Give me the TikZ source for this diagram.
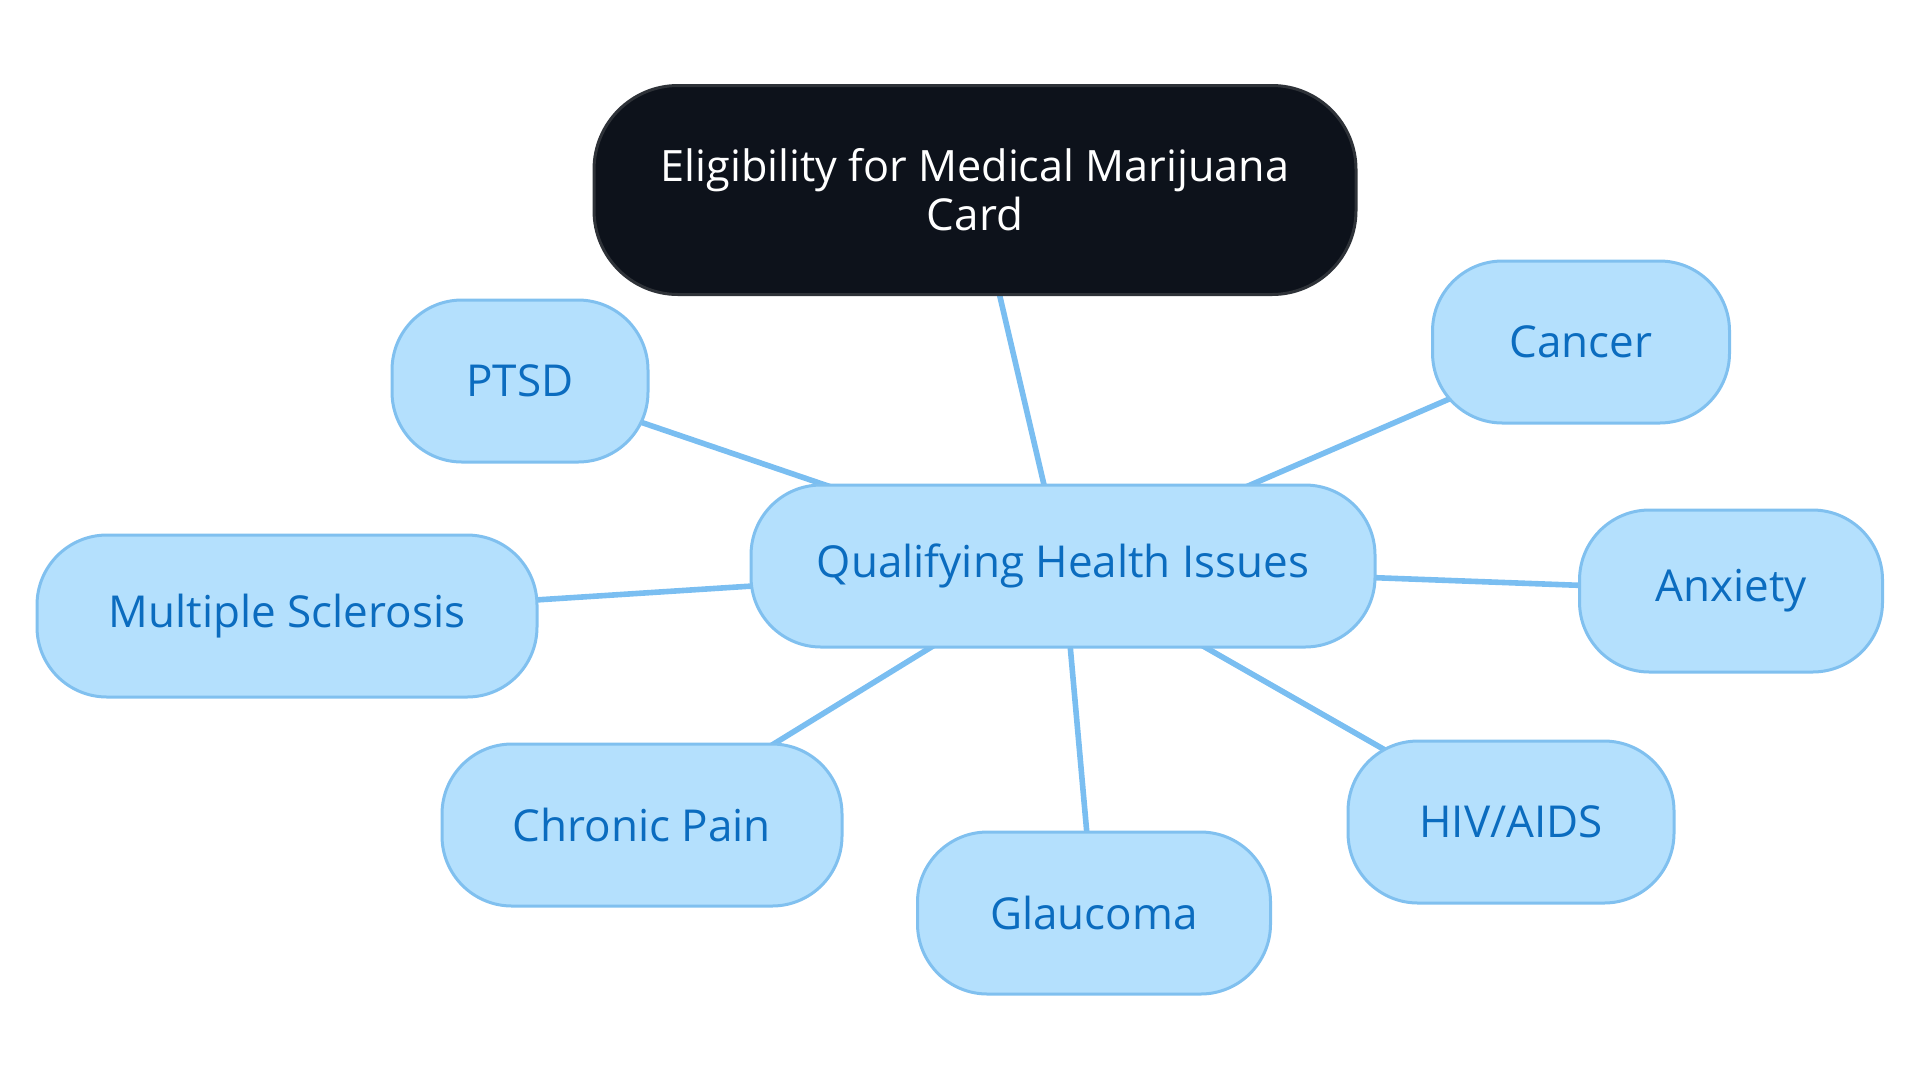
\documentclass[tikz,border=0pt]{standalone}
\usepackage{fontspec}
\setmainfont{Open Sans}
\usepackage{tikz}
\usetikzlibrary{backgrounds}

\definecolor{leaffill}{HTML}{B4E0FD}
\definecolor{leafline}{HTML}{80C0EF}
\definecolor{linkline}{HTML}{7ABEF1}
\definecolor{leaftext}{HTML}{0B6CBF}
\definecolor{rootfill}{HTML}{0D121B}
\definecolor{rootline}{HTML}{2E3238}

\begin{document}
\begin{tikzpicture}[x=0.5pt,y=-0.5pt, font=\fontsize{22}{24.5}\selectfont]

    \tikzstyle{leaf}=[fill=leaffill,draw=leafline,line width=1.5pt,text=leaftext,rounded corners=35pt,minimum height=81pt,inner sep=0pt]
    \tikzstyle{root}=[fill=rootfill,draw=rootline,line width=1.5pt,text=white,rounded corners=42pt,minimum width=381pt,minimum height=104.5pt,align=center,inner sep=0pt]
    \tikzstyle{link}=[draw=linkline,line width=2.8pt]

    \useasboundingbox (0,0) rectangle (1920,1083);

    \node[root] (card)    at (975,190)  {\fontsize{21.6}{24.5}\selectfont Eligibility for Medical Marijuana\\Card};
    \node[leaf, minimum width=312pt]   (issues)  at (1063,566) {Qualifying Health Issues};
    \node[leaf, minimum width=128pt]   (ptsd)    at (520,381)  {PTSD};
    \node[leaf, minimum width=148.5pt] (cancer)  at (1581,342) {Cancer};
    \node[leaf, minimum width=250pt]   (ms)      at (287,616)  {Multiple Sclerosis};
    \node[leaf, minimum width=151.5pt] (anxiety) at (1731,591) {Anxiety};
    \node[leaf, minimum width=200pt]   (pain)    at (642,825)  {Chronic Pain};
    \node[leaf, minimum width=176.5pt] (glaucoma) at (1094,913) {Glaucoma};
    \node[leaf, minimum width=163pt]   (hiv)     at (1511,822) {HIV/AIDS};

    \begin{scope}[on background layer]
    \draw[link] (card.center) -- (issues.center);
    \foreach \leafname in {ptsd,cancer,ms,anxiety,pain,glaucoma,hiv}
      \draw[link] (issues.center) -- (\leafname.center);
    \end{scope}
\end{tikzpicture}
\end{document}
